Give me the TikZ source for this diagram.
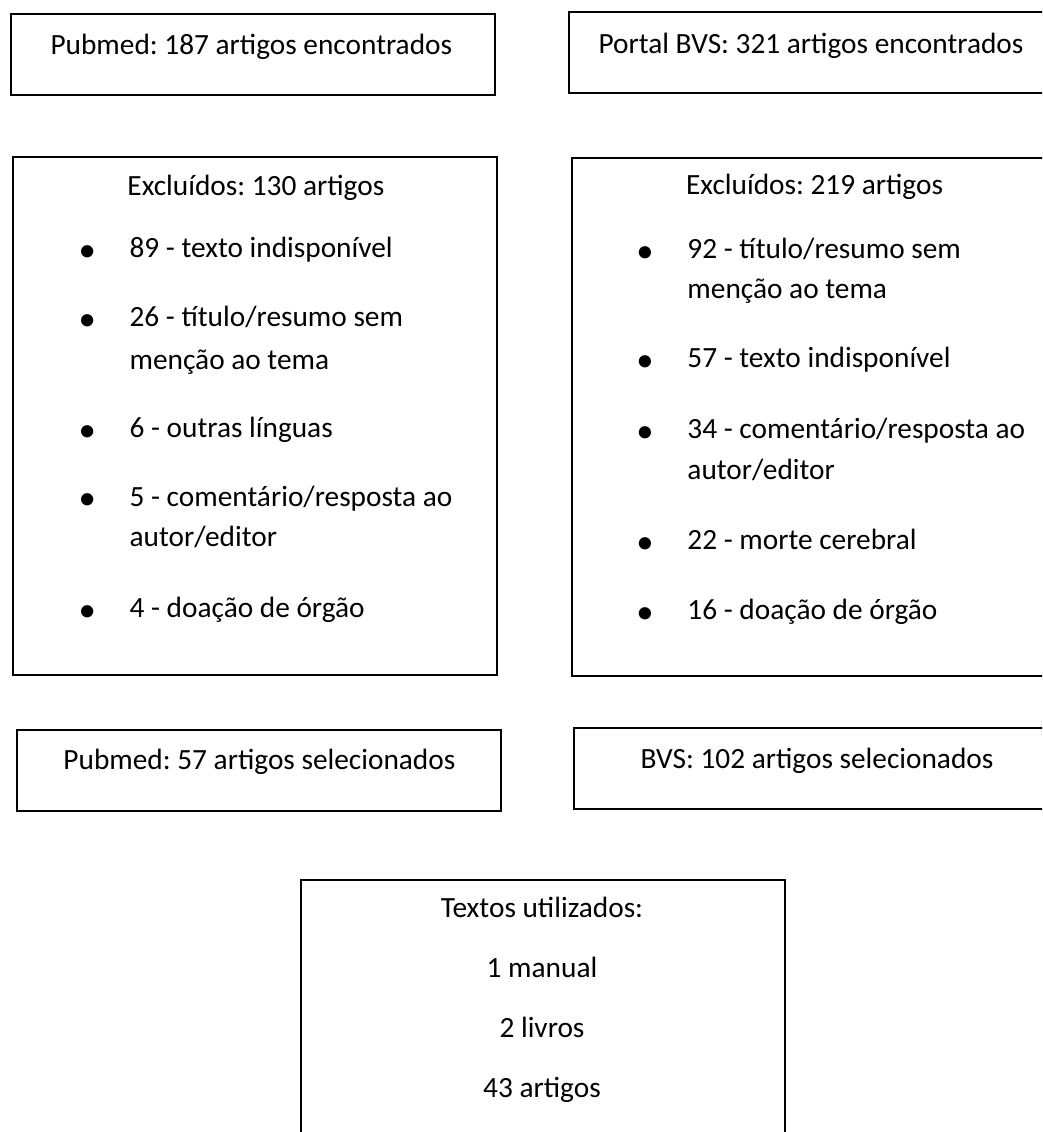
\documentclass[tikz,border=0pt]{standalone}
\usepackage{fontspec}
\setmainfont{Carlito}
\frenchspacing
\newcommand{\boxWidth}{181.5pt}
\newcommand{\boxHeight}{30.4pt}
\newcommand{\listHeight}{194.2pt}
\newcommand{\pageWidth}{390.75}
\newcommand{\pageHeight}{424.5}
\tikzset{
  caixa/.style={draw, line width=0.8pt, inner sep=0pt, anchor=north west,
                minimum width=\boxWidth, minimum height=\boxHeight},
  texto/.style={anchor=base west, inner sep=0pt, font=\fontsize{11}{15.5}\selectfont},
  centro/.style={texto, anchor=base},
  marca/.style={anchor=base, inner sep=0pt, font=\fontsize{13}{13}\selectfont}
}
\begin{document}
\begin{tikzpicture}[x=1pt, y=-1pt]
  \useasboundingbox (0,0) rectangle (\pageWidth,\pageHeight);
  \clip (0,0) rectangle (\pageWidth,\pageHeight);
% busca
  \node[caixa] (pubmedBusca) at (3.75,4.9) {};
  \node[texto] (pubmedBuscaTxt) at (18.75,20.6) {Pubmed: 187 artigos encontrados};
  \node[caixa] (bvsBusca) at (213.1,4.1) {};
  \node[texto] (bvsBuscaTxt) at (224.25,19.9) {Portal BVS: 321 artigos encontrados};
% excluidos pubmed
  \node[caixa, minimum height=\listHeight] (pubmedExc) at (4.5,58.5) {};
  \node[texto] (pubmedExcTit) at (47.6,73.5) {Excluídos: 130 artigos};
  \node[marca] (pubmedM1) at (32.7,98.2) {•};
  \node[texto] (pubmedI1) at (48.4,96.75) {89 - texto indisponível};
  \node[marca] (pubmedM2) at (32.7,124.1) {•};
  \node[texto] (pubmedI2) at (48.4,122.6) {26 - título/resumo sem};
  \node[texto] (pubmedI2b) at (48.4,138.4) {menção ao tema};
  \node[marca] (pubmedM3) at (32.7,165.4) {•};
  \node[texto] (pubmedI3) at (48.4,163.9) {6 - outras línguas};
  \node[marca] (pubmedM4) at (32.7,191.2) {•};
  \node[texto] (pubmedI4) at (48.4,189.75) {5 - comentário/resposta ao};
  \node[texto] (pubmedI4b) at (48.4,205.1) {autor/editor};
  \node[marca] (pubmedM5) at (32.7,232.9) {•};
  \node[texto] (pubmedI5) at (48.4,231.4) {4 - doação de órgão};
% excluidos bvs
  \node[caixa, minimum height=\listHeight] (bvsExc) at (214,58.9) {};
  \node[texto] (bvsExcTit) at (257.1,72.8) {Excluídos: 219 artigos};
  \node[marca] (bvsM1) at (241.9,98.5) {•};
  \node[texto] (bvsI1) at (257.6,97) {92 - título/resumo sem};
  \node[texto] (bvsI1b) at (257.6,111.8) {menção ao tema};
  \node[marca] (bvsM2) at (241.9,139.5) {•};
  \node[texto] (bvsI2) at (257.6,138) {57 - texto indisponível};
  \node[marca] (bvsM3) at (241.9,165.8) {•};
  \node[texto] (bvsI3) at (257.6,164.3) {34 - comentário/resposta ao};
  \node[texto] (bvsI3b) at (257.6,179.8) {autor/editor};
  \node[marca] (bvsM4) at (241.9,207.5) {•};
  \node[texto] (bvsI4) at (257.6,206) {22 - morte cerebral};
  \node[marca] (bvsM5) at (241.9,233.8) {•};
  \node[texto] (bvsI5) at (257.6,232.3) {16 - doação de órgão};
% selecionados
  \node[caixa] (pubmedSel) at (6,273.4) {};
  \node[texto] (pubmedSelTxt) at (23.6,288.4) {Pubmed: 57 artigos selecionados};
  \node[caixa] (bvsSel) at (215,272.6) {};
  \node[texto] (bvsSelTxt) at (240,288) {BVS: 102 artigos selecionados};
% textos utilizados
  \node[caixa, minimum height=120pt] (utilizados) at (112.5,329.6) {};
  \node[centro] (utilTit) at (203.25,343.9) {Textos utilizados:};
  \node[centro] (utilManual) at (203.25,366.4) {1 manual};
  \node[centro] (utilLivros) at (203.25,388.9) {2 livros};
  \node[centro] (utilArtigos) at (203.25,411.4) {43 artigos};
\end{tikzpicture}
\end{document}
